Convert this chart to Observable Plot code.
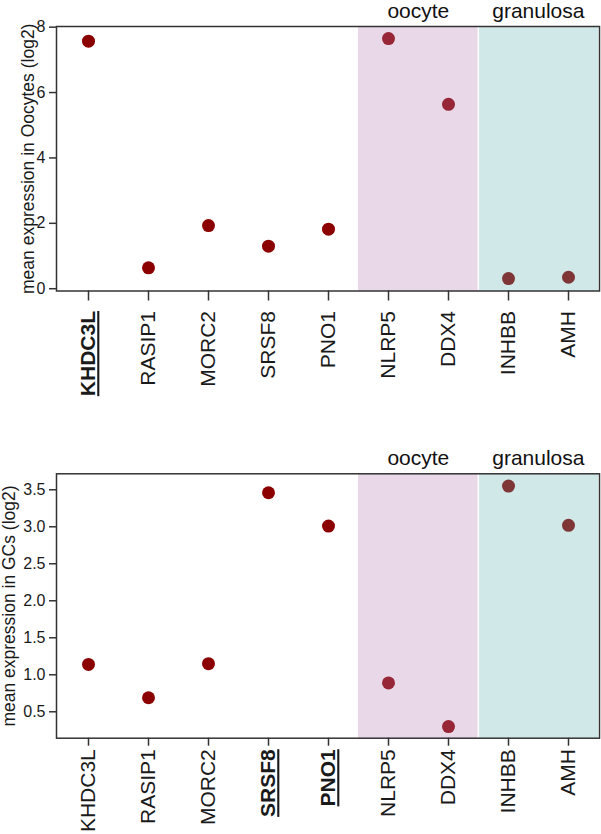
<!DOCTYPE html>
<html>
<head>
<meta charset="utf-8">
<script src="https://cdn.jsdelivr.net/npm/d3@7"></script>
<script src="https://cdn.jsdelivr.net/npm/@observablehq/plot@0.6"></script>
<style>
  body { margin: 0; background: #fff; font-family: "Liberation Sans", Arial, sans-serif; }
  #chart svg { display: block; }
</style>
</head>
<body>
<div id="chart"></div>
<script>
// ---- data ----
const genes = ["KHDC3L", "RASIP1", "MORC2", "SRSF8", "PNO1", "NLRP5", "DDX4", "INHBB", "AMH"];
const oocyteValues = [7.57, 0.64, 1.93, 1.30, 1.82, 7.65, 5.64, 0.31, 0.35];
const gcValues = [1.14, 0.69, 1.15, 3.46, 3.01, 0.89, 0.30, 3.55, 3.02];
const markerGroups = ["", "", "", "", "", "oocyte", "oocyte", "granulosa", "granulosa"];
const groupNames = ["oocyte", "granulosa"];
const groupColors = ["#b27db2", "#62b2b2"];
const oocyteTicks = [0, 2, 4, 6, 8];
const gcTicks = [0.5, 1.0, 1.5, 2.0, 2.5, 3.0, 3.5];
const oocyteHighlight = ["KHDC3L"];
const gcHighlight = ["SRSF8", "PNO1"];
const oocyteLabel = "mean expression in Oocytes (log2)";
const gcLabel = "mean expression in GCs (log2)";

// ---- layout ----
const W = 601, ML = 56, MR = 2;
const step = (W - ML - MR) / genes.length;
const FONT = '"Liberation Sans", Arial, sans-serif';

function panel({values, ticks, domain, label, labelOffset, highlight, height, marginTop, marginBottom, fmt, tickSize, tickPadding}) {
  const data = genes.map((g, i) => ({gene: g, value: values[i], group: markerGroups[i]}));
  const shaded = data.filter(d => d.group);
  // each group label sits at the boundary between the two genes of its group
  const groupLabels = groupNames.map(name => {
    const members = genes.filter((g, i) => markerGroups[i] === name);
    return {gene: members[members.length - 1], label: name};
  });
  const firstOfSecond = genes[markerGroups.indexOf(groupNames[1])];

  const plot = Plot.plot({
    width: W, height, marginLeft: ML, marginRight: MR, marginTop, marginBottom,
    style: {fontFamily: FONT, fontSize: "16px", color: "#1a1a1a", background: "white", overflow: "visible"},
    x: {domain: genes, padding: 0, axis: null, label: null},
    y: {domain, axis: null, label: null},
    color: {domain: groupNames, range: groupColors},
    marks: [
      Plot.dot(data, {x: "gene", y: "value", r: 6.5, fill: "#8b0000", stroke: "none"}),
      Plot.barY(shaded, {x: "gene", y1: domain[0], y2: domain[1], fill: "group", fillOpacity: 0.3, inset: 0, shapeRendering: "crispEdges"}),
      Plot.ruleX([firstOfSecond], {x: d => d, dx: -step / 2, stroke: "white", strokeWidth: 1.5}),
      Plot.frame({stroke: "#333", strokeWidth: 1.5}),
      Plot.axisX({tickRotate: -90, tickSize, tickPadding, fontSize: 21, stroke: "#333", strokeWidth: 1.5, label: null}),
      Plot.axisY({ticks, tickFormat: fmt, tickSize: 7, tickPadding: 4, fontSize: 16, stroke: "#333", strokeWidth: 1.5, label: null}),
      Plot.text([label], {text: d => d, frameAnchor: "left", textAnchor: "middle", rotate: -90, dx: -labelOffset, fontSize: 17.5, fill: "#1a1a1a"}),
      Plot.text(groupLabels, {x: "gene", text: "label", dx: -step / 2, frameAnchor: "top", lineAnchor: "bottom", dy: -9, fontSize: 21, fill: "#111"})
    ]
  });
  d3.select(plot).selectAll("g[aria-label='x-axis tick label'] text")
    .filter(function() { return highlight.includes(this.textContent); })
    .attr("font-weight", "bold")
    .style("text-decoration", "underline");
  return plot;
}

const chart = document.getElementById("chart");
chart.appendChild(panel({
  values: oocyteValues, ticks: oocyteTicks, domain: [-0.07, 8.02], label: oocyteLabel, labelOffset: 28,
  highlight: oocyteHighlight, height: 447, marginTop: 26, marginBottom: 156.5, fmt: d3.format("d"),
  tickSize: 10, tickPadding: 10
}));
chart.appendChild(panel({
  values: gcValues, ticks: gcTicks, domain: [0.143, 3.716], label: gcLabel, labelOffset: 47,
  highlight: gcHighlight, height: 387, marginTop: 26.3, marginBottom: 96.3, fmt: d3.format(".1f"),
  tickSize: 8, tickPadding: 3
}));
</script>
</body>
</html>
